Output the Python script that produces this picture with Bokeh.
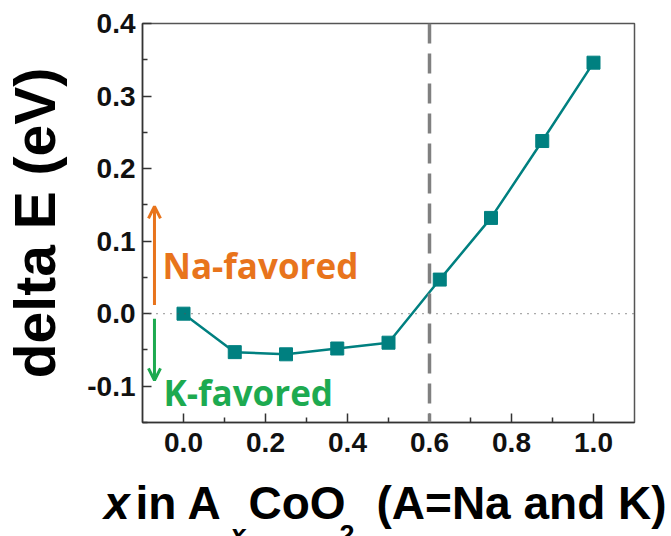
import math
from bokeh.plotting import figure
from bokeh.layouts import column
from bokeh.models import Label, Arrow, OpenHead, Span, Range1d, FixedTicker, PrintfTickFormatter
from bokeh.core.properties import value
from bokeh.embed import file_html
from bokeh.resources import INLINE

# ---- data ----
x_vals = [0.0, 0.125, 0.25, 0.375, 0.5, 0.625, 0.75, 0.875, 1.0]
delta_E = [0.0, -0.053, -0.056, -0.048, -0.040, 0.047, 0.132, 0.238, 0.346]
x_ticks = [0.0, 0.2, 0.4, 0.6, 0.8, 1.0]
x_minor = [0.1, 0.3, 0.5, 0.7, 0.9]
y_ticks = [-0.1, 0.0, 0.1, 0.2, 0.3, 0.4]
y_minor = [-0.15, -0.05, 0.05, 0.15, 0.25, 0.35]
boundary_x = 0.6
na_arrow = (0.012, 0.148)
k_arrow = (-0.007, -0.092)

# ---- layout (pixels) ----
FL, FR, FT, FB = 141, 634, 23, 422
XR = (-0.1, 1.1)
YR = (-0.15, 0.4)
W, H = 671, 536
H1 = 482           # main figure height
H2 = H - H1        # strip holding the x-axis title


def X(px):
    return XR[0] + (px - FL) / (FR - FL) * (XR[1] - XR[0])


def Y(py):
    return YR[1] - (py - FT) / (FB - FT) * (YR[1] - YR[0])


TEAL = "#008080"
ORANGE = "#E8741C"
GREEN = "#1DAA50"
FONT = "Liberation Sans"

p = figure(width=W, height=H1, output_backend="svg", toolbar_location=None,
           x_range=Range1d(*XR), y_range=Range1d(*YR),
           min_border_left=FL, min_border_right=W - FR, min_border_top=FT, min_border_bottom=H1 - FB)
p.frame_align = False
p.xgrid.visible = False
p.ygrid.visible = False
p.outline_line_color = "#555555"
p.outline_line_width = 1.5
p.background_fill_color = "white"
p.border_fill_color = "white"

for ax, ticks, minor in ((p.xaxis[0], x_ticks, x_minor), (p.yaxis[0], y_ticks, y_minor)):
    ax.ticker = FixedTicker(ticks=ticks, minor_ticks=minor)
    ax.formatter = PrintfTickFormatter(format="%.1f")
    ax.major_tick_in = 9
    ax.major_tick_out = 0
    ax.minor_tick_in = 5
    ax.minor_tick_out = 0
    ax.axis_line_color = "#333333"
    ax.axis_line_width = 1.5
    ax.major_tick_line_color = "#333333"
    ax.major_tick_line_width = 1.5
    ax.minor_tick_line_color = "#333333"
    ax.minor_tick_line_width = 1.5
    ax.major_label_text_font = FONT
    ax.major_label_text_font_style = "bold"
    ax.major_label_text_font_size = "28px"
    ax.major_label_text_color = "#111111"

p.xaxis.major_label_standoff = 10
p.yaxis.major_label_standoff = 7

# y axis title
p.yaxis.axis_label = "delta E (eV)"
p.yaxis.axis_label_text_font = FONT
p.yaxis.axis_label_text_font_style = "bold"
p.yaxis.axis_label_text_font_size = "57px"
p.yaxis.axis_label_text_color = "black"
p.yaxis.axis_label_standoff = 17

# zero line (dotted) and boundary (dashed)
p.add_layout(Span(location=0.0, dimension="width", line_color="#555555",
                  line_width=1.2, line_dash="1 6"))
p.add_layout(Span(location=boundary_x, dimension="height", line_color="#808080",
                  line_width=3.5, line_dash="20 10"))

p.line(x_vals, delta_E, line_color=TEAL, line_width=2.5)
p.scatter(x_vals, delta_E, marker="square", size=13, fill_color=TEAL, line_color=TEAL)

# arrows
ax_x = X(153)
p.add_layout(Arrow(end=OpenHead(size=12, line_color=ORANGE, line_width=3),
                   x_start=ax_x, y_start=na_arrow[0], x_end=ax_x, y_end=na_arrow[1],
                   line_color=ORANGE, line_width=3))
p.add_layout(Arrow(end=OpenHead(size=12, line_color=GREEN, line_width=3),
                   x_start=ax_x, y_start=k_arrow[0], x_end=ax_x, y_end=k_arrow[1],
                   line_color=GREEN, line_width=3))

p.add_layout(Label(x=X(161), y=Y(265), text="Na-favored", text_font="Open Sans",
                   text_font_style="bold", text_font_size="35px", text_color=ORANGE,
                   text_baseline="alphabetic"))
p.add_layout(Label(x=X(162), y=Y(391.7), text="K-favored", text_font="Open Sans",
                   text_font_style="bold", text_font_size="35px", text_color=GREEN,
                   text_baseline="alphabetic"))

# ---- strip below with the x-axis title (pixel coordinates, y downward) ----
q = figure(width=W, height=H2, output_backend="svg", toolbar_location=None,
           x_range=Range1d(0, W), y_range=Range1d(H2, 0),
           x_axis_location=None, y_axis_location=None,
           min_border_left=0, min_border_right=0, min_border_top=0, min_border_bottom=0)
q.title = None
q.frame_align = False
q.xgrid.visible = False
q.ygrid.visible = False
q.outline_line_color = None
q.background_fill_color = "white"
q.border_fill_color = "white"

SHIFT = 15.0  # empirical correction of the strip's vertical placement
base = 517.7 - H1 - SHIFT
sub = 549.0 - H1 - SHIFT
pieces = [
    ("x", 103.5, base, "46px", "bold italic"),
    (" in A", 135.0, base, "46px", "bold"),
    ("x", 230.0, sub, "27px", "bold italic"),
    ("CoO", 248.0, base, "46px", "bold"),
    ("2", 339.0, sub, "27px", "bold"),
    ("(A=Na and K)", 376.0, base, "46px", "bold"),
]
for txt, px, py, fs, style in pieces:
    q.text(x=[px], y=[py], text=[txt], text_font=value(FONT), text_font_style=style,
           text_font_size=value(fs), text_baseline="alphabetic", text_align="left",
           text_color="black")

layout = column(p, q, spacing=0)
open("out.html", "w").write(file_html(layout, INLINE))
